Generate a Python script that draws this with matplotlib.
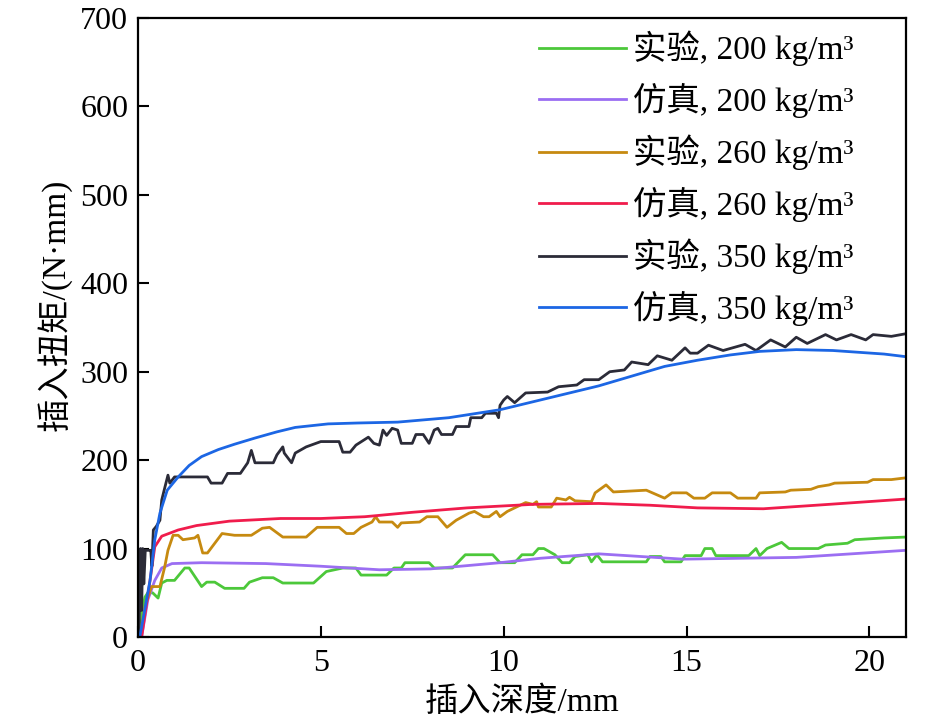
import matplotlib
matplotlib.use("Agg")
import matplotlib.pyplot as plt

plt.rcParams['font.family'] = ['Liberation Serif', 'Noto Sans CJK SC']

# 仿真, 350 kg/m3
sim350_x = [0.05, 0.33, 0.46, 0.6, 0.8, 1.1, 1.4, 1.74, 2.2, 2.64, 3.2, 3.8, 4.3, 5.2, 6.0, 7.1, 8.5, 9.9, 11.0, 12.6,
            13.5, 14.4, 15.3, 16.2, 17.0, 18.0, 19.0, 19.7, 20.4, 21.0]
sim350_y = [0, 64, 110, 140, 166, 181, 194, 204, 212, 218, 225, 232, 237, 241, 242, 243, 248, 257, 268, 284,
            295, 306, 313, 319, 323, 325, 324, 322, 320, 317]

# 仿真, 260 kg/m3
sim260_x = [0.1, 0.33, 0.46, 0.65, 1.1, 1.6, 2.5, 3.9, 5.0, 6.2, 7.5, 9.0, 10.8, 12.6, 14.0, 15.3, 17.1, 18.9, 21.0]
sim260_y = [0, 64, 102, 114, 121, 126, 131, 134, 134, 136, 141, 146, 150, 151, 149, 146, 145, 150, 156]

# 仿真, 200 kg/m3
sim200_x = [0.1, 0.27, 0.46, 0.65, 0.93, 1.74, 3.5, 5.0, 6.6, 8.0, 9.9, 11.0, 12.6, 14.9, 18.0, 21.0]
sim200_y = [0, 42, 64, 78, 83, 84, 83, 80, 76, 77, 84, 89, 94, 88, 90, 98]

# 实验, 350 kg/m3
exp350_x = [0.02, 0.05, 0.07, 0.1, 0.13, 0.16, 0.2, 0.3, 0.35, 0.38, 0.42, 0.5, 0.6, 0.65, 0.74, 0.82, 0.87, 1.0,
            1.9, 2.0, 2.3, 2.45, 2.8, 3.0, 3.1, 3.2, 3.7, 3.8, 3.96, 4.0, 4.2, 4.3, 4.6, 5.0, 5.5, 5.6, 5.8, 5.96,
            6.3, 6.45, 6.6, 6.7, 6.8, 6.95, 7.1, 7.2, 7.5, 7.6, 7.8, 7.96, 8.1, 8.2, 8.3, 8.6, 8.7, 9.05, 9.1, 9.4,
            9.5, 9.8, 9.86, 9.9, 10.0, 10.1, 10.3, 10.6, 11.2, 11.5, 12.0, 12.2, 12.6, 12.9, 13.3, 13.5, 13.8,
            13.95, 14.2, 14.6, 14.96, 15.1, 15.3, 15.6, 16.0, 16.6, 16.9, 17.3, 17.7, 18.0, 18.3, 18.8, 19.1,
            19.5, 19.9, 20.1, 20.6, 21.0]
exp350_y = [0, 40, 100, 30, 100, 60, 98, 98, 98, 80, 121, 125, 132, 155, 170, 183, 174, 181,
            181, 174, 174, 185, 185, 197, 211, 197, 197, 206, 215, 208, 197, 208, 215, 221, 221, 209, 209, 217,
            226, 219, 217, 234, 228, 236, 234, 219, 219, 229, 229, 219, 234, 236, 229, 229, 238, 238, 248, 248,
            253, 253, 248, 262, 268, 272, 265, 276, 277, 283, 285, 291, 291, 300, 302, 311, 309,
            308, 318, 313, 327, 321, 321, 330, 324, 331, 324, 336, 328, 339, 332, 342, 336,
            342, 336, 342, 340, 343]

# 实验, 260 kg/m3
exp260_x = [0.05, 0.19, 0.37, 0.6, 0.73, 0.82, 0.96, 1.1, 1.23, 1.55, 1.64, 1.77, 1.9, 2.3, 2.64, 3.1, 3.4, 3.6,
            3.96, 4.6, 4.9, 5.5, 5.7, 5.9, 6.1, 6.4, 6.5, 6.6, 6.95, 7.1, 7.2, 7.7, 7.9, 8.2, 8.45, 8.7, 9.05, 9.2,
            9.45, 9.6, 9.8, 9.9, 10.1, 10.3, 10.6, 10.8, 10.9, 10.95, 11.3, 11.45, 11.7, 11.8, 11.95, 12.4, 12.5,
            12.8, 13.0, 13.9, 14.4, 14.6, 15.0, 15.2, 15.5, 15.7, 16.2, 16.4, 16.9, 17.0, 17.7, 17.85, 18.4, 18.6,
            18.9, 19.05, 19.95, 20.1, 20.6, 21.0]
exp260_y = [0, 34, 57, 57, 79, 98, 115, 115, 110, 112, 115, 95, 95, 117, 115, 115, 123, 124,
            113, 113, 124, 124, 117, 117, 124, 130, 136, 130, 130, 124, 129, 130, 136, 136, 124, 132, 140, 142,
            136, 136, 142, 136, 142, 146, 152, 150, 153, 147, 147, 157, 155, 158, 154, 153, 163,
            172, 164, 166, 157, 163, 163, 157, 157, 163, 163, 157, 157, 163, 164, 166, 167, 170,
            172, 174, 175, 178, 178, 180]

# 实验, 200 kg/m3
exp200_x = [0.05, 0.12, 0.19, 0.27, 0.4, 0.55, 0.65, 0.79, 1.0, 1.28, 1.4, 1.74, 1.88, 2.1, 2.37, 2.9, 3.05, 3.4,
            3.7, 3.96, 4.8, 5.15, 5.6, 5.96, 6.1, 6.8, 7.0, 7.2, 7.3, 7.96, 8.1, 8.6, 8.95, 9.7, 9.9, 10.3, 10.5,
            10.8, 10.95, 11.1, 11.4, 11.6, 11.8, 11.95, 12.3, 12.4, 12.55, 12.7, 13.9, 14.0, 14.3, 14.4, 14.85,
            14.96, 15.4, 15.5, 15.7, 15.8, 16.7, 16.9, 17.0, 17.2, 17.6, 17.8, 18.6, 18.8, 19.4, 19.6, 20.4, 21.0]
exp200_y = [0, 30, 45, 50, 50, 44, 61, 64, 64, 78, 78, 57, 62, 62, 55, 55, 62, 67,
            67, 61, 61, 74, 78, 78, 70, 70, 78, 78, 84, 84, 78, 78, 93, 93, 84, 84, 93,
            93, 100, 100, 93, 84, 84, 91, 93, 85, 93, 85, 85, 91, 91, 85, 85,
            92, 92, 100, 100, 92, 92, 100, 92, 100, 107, 100, 100, 104, 106, 110, 112, 113]

series = [
    (exp200_x, exp200_y, '#4cc83a', '实验, 200 kg/m³'),
    (sim200_x, sim200_y, '#9b6ef2', '仿真, 200 kg/m³'),
    (exp260_x, exp260_y, '#c68a10', '实验, 260 kg/m³'),
    (sim260_x, sim260_y, '#f01c4c', '仿真, 260 kg/m³'),
    (exp350_x, exp350_y, '#2b2b38', '实验, 350 kg/m³'),
    (sim350_x, sim350_y, '#1c66e4', '仿真, 350 kg/m³'),
]

fig = plt.figure(figsize=(9.45, 7.23), dpi=100)
ax = fig.add_axes([0.146, 0.119, 0.8127, 0.856])

for xs, ys, c, lab in series:
    ax.plot(xs, ys, color=c, lw=2.0, label=lab)

ax.set_xlim(0, 21)
ax.set_ylim(0, 700)
ax.set_xticks([0, 5, 10, 15, 20])
ax.set_yticks(range(0, 701, 100))
ax.tick_params(direction='in', length=8, width=1.5, labelsize=23)
ax.tick_params(axis='x', pad=9)
ax.tick_params(axis='y', pad=7)
for s in ax.spines.values():
    s.set_linewidth(1.6)

ax.set_xlabel('插入深度/mm', fontsize=24, labelpad=0)
ax.set_ylabel('插入扭矩/(N·mm)', fontsize=24)
ax.yaxis.set_label_coords(-0.086, 0.536)
ax.xaxis.set_label_coords(0.5, -0.08)

ax.legend(loc='upper left', bbox_to_anchor=(0.492, 1.017), frameon=False, fontsize=24,
          handlelength=2.6, handletextpad=0.22, labelspacing=0.5, borderpad=0.2)

fig.savefig('out.png', dpi=100)
plt.close(fig)
